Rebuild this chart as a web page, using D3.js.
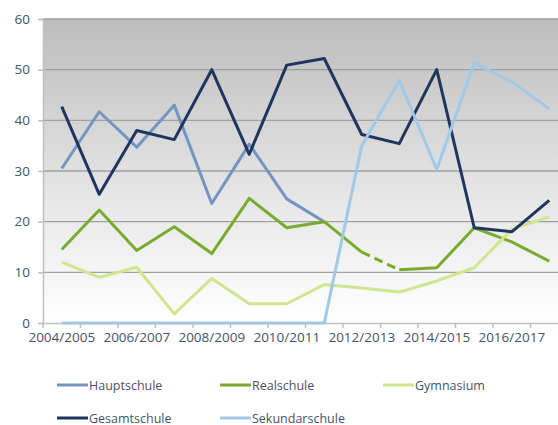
<!DOCTYPE html>
<html><head><meta charset="utf-8">
<script src="https://cdn.jsdelivr.net/npm/d3@7"></script>
<style>body{margin:0;background:#fff}svg{display:block}text{font-family:"Open Sans","Noto Sans",sans-serif}</style>
</head><body><svg width="558" height="425"></svg>
<script>
const categories = ["2004/2005","2005/2006","2006/2007","2007/2008","2008/2009","2009/2010","2010/2011","2011/2012","2012/2013","2013/2014","2014/2015","2015/2016","2016/2017","2017/2018"];
const hauptschule = [30.5,41.7,34.7,43,23.6,35.3,24.5,20,null,null,null,null,null,null];
const realschule = [14.5,22.3,14.3,19,13.7,24.6,18.8,20,14,10.5,10.9,18.8,16,12.2];
const gymnasium = [12,9,11,1.8,8.8,3.8,3.8,7.6,6.9,6.1,8.3,10.9,18.5,21];
const gesamtschule = [42.7,25.4,38,36.2,50,33.3,50.9,52.2,37.2,35.4,50,18.8,18,24.2];
const sekundarschule = [0,0,0,0,0,0,0,0,35,47.9,30.3,51.3,47.6,42.3];
const yTicks = [0,10,20,30,40,50,60];
const xLabels = ["2004/2005","2006/2007","2008/2009","2010/2011","2012/2013","2014/2015","2016/2017"];

const series = [
  {name:"Hauptschule", values:hauptschule, color:"#7295c1"},
  {name:"Realschule", values:realschule, color:"#78ab2d", dashed:[9,5]},
  {name:"Gymnasium", values:gymnasium, color:"#d1e58f"},
  {name:"Gesamtschule", values:gesamtschule, color:"#1f3560"},
  {name:"Sekundarschule", values:sekundarschule, color:"#a2c8e8"}
];

const svg = d3.select("svg");
const L=43, R=568, T=19, B=323;
const x = d3.scaleBand().domain(categories).range([L,R]);
const y = d3.scaleLinear().domain([0,60]).range([B,T]);

const defs = svg.append("defs");
const g = defs.append("linearGradient").attr("id","bg").attr("x1",0).attr("y1",0).attr("x2",0).attr("y2",1);
g.append("stop").attr("offset","0%").attr("stop-color","#bcbcbc");
g.append("stop").attr("offset","55%").attr("stop-color","#e4e4e4");
g.append("stop").attr("offset","100%").attr("stop-color","#ffffff");
svg.append("rect").attr("x",L).attr("y",T).attr("width",R-L).attr("height",B-T).attr("fill","url(#bg)");

// gridlines
svg.append("g").selectAll("line").data(yTicks.filter(d=>d>0)).join("line")
  .attr("x1",L).attr("x2",R).attr("y1",d=>y(d)).attr("y2",d=>y(d))
  .attr("stroke","#a0a0a0").attr("stroke-width",1.3);

// y axis
const ya = svg.append("g").attr("transform",`translate(${L},0)`)
  .call(d3.axisLeft(y).tickValues(yTicks).tickSize(5).tickPadding(8));
ya.select(".domain").attr("stroke","#bfbfbf").attr("stroke-width",1.5);
ya.selectAll(".tick line").attr("stroke","#bfbfbf").attr("stroke-width",1.5);
ya.selectAll("text").attr("fill","#44546a").attr("font-size",13.5);

// x axis
const xa = svg.append("g").attr("transform",`translate(0,${B})`)
  .call(d3.axisBottom(x).tickValues(xLabels).tickSize(0).tickPadding(9));
xa.select(".domain").attr("stroke","#bfbfbf").attr("stroke-width",1.5);
xa.selectAll("text").attr("fill","#44546a").attr("font-size",13.5);
svg.append("g").selectAll("line").data(categories).join("line")
  .attr("x1",d=>x(d)).attr("x2",d=>x(d)).attr("y1",B).attr("y2",B+5)
  .attr("stroke","#bfbfbf").attr("stroke-width",1.5);

const cx = i => x(categories[i]) + x.bandwidth()/2;
const line = d3.line().defined(d=>d.v!=null).x(d=>cx(d.i)).y(d=>y(d.v));

series.forEach(s=>{
  const pts = s.values.map((v,i)=>({v,i}));
  if (s.dashed) {
    const solid1 = pts.slice(0,9), dash = pts.slice(8,10), solid2 = pts.slice(9);
    [solid1,solid2].forEach(p=>svg.append("path").attr("d",line(p)).attr("fill","none")
      .attr("stroke",s.color).attr("stroke-width",3).attr("stroke-linejoin","round"));
    svg.append("path").attr("d",line(dash)).attr("fill","none")
      .attr("stroke",s.color).attr("stroke-width",3).attr("stroke-dasharray",s.dashed.join(","));
  } else {
    svg.append("path").attr("d",line(pts)).attr("fill","none")
      .attr("stroke",s.color).attr("stroke-width",3).attr("stroke-linejoin","round");
  }
});

// legend
const legPos = [[57,385],[220,385],[383,385],[57,418],[220,418]];
series.forEach((s,i)=>{
  const [lx,ly]=legPos[i];
  svg.append("line").attr("x1",lx).attr("x2",lx+31).attr("y1",ly).attr("y2",ly)
    .attr("stroke",s.color).attr("stroke-width",3);
  svg.append("text").attr("x",lx+32).attr("y",ly+4.5).attr("fill","#44546a")
    .attr("font-size",12.5).text(s.name);
});
</script></body></html>
